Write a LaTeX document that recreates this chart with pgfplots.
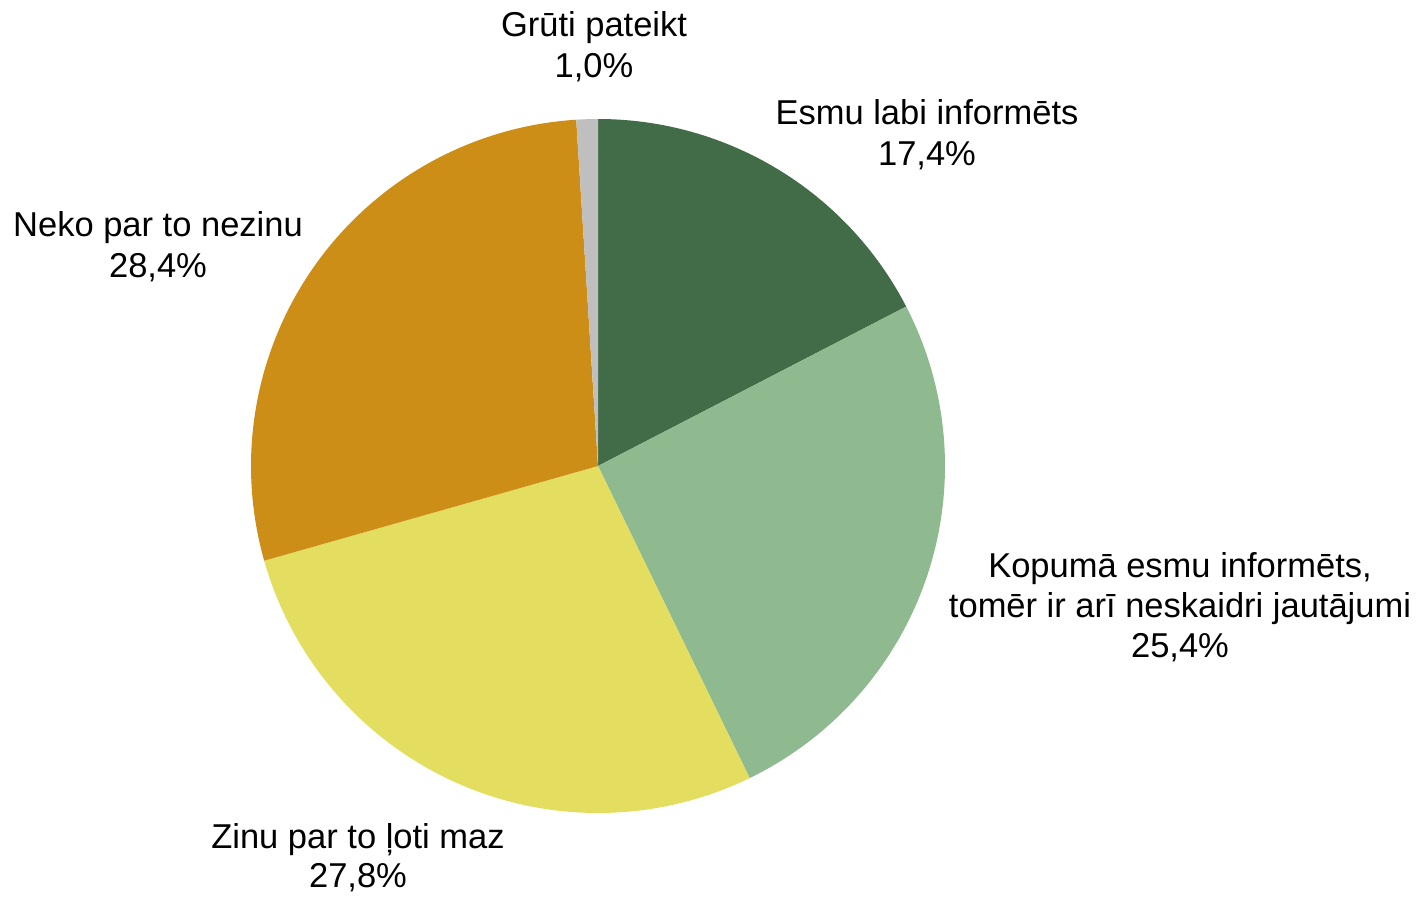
\documentclass[border=0pt]{standalone}
\usepackage{pgfplots}
\pgfplotsset{compat=1.18}
\usepackage{fontspec}
\setmainfont{Liberation Sans}
\definecolor{cA}{HTML}{426B47}
\definecolor{cB}{HTML}{8FBA8F}
\definecolor{cC}{HTML}{E3DE5F}
\definecolor{cD}{HTML}{CD8E17}
\definecolor{cE}{HTML}{BFBFBF}
% values (percent), clockwise from 12 o'clock
\def\vA{17.4}\def\vB{25.4}\def\vC{27.8}\def\vD{28.4}\def\vE{1.0}
\pgfmathsetmacro\aA{90}
\pgfmathsetmacro\aB{\aA-3.6*\vA}
\pgfmathsetmacro\aC{\aB-3.6*\vB}
\pgfmathsetmacro\aD{\aC-3.6*\vC}
\pgfmathsetmacro\aE{\aD-3.6*\vD}
\pgfmathsetmacro\aF{\aE-3.6*\vE}
\def\R{173.5pt}
\begin{document}
\begin{tikzpicture}[every node/.style={font=\fontsize{17.25pt}{20.25pt}\selectfont, inner sep=0pt}]
\begin{axis}[x=0.5pt, y=0.5pt, xmin=0, xmax=1417, ymin=0, ymax=896,
  hide axis, scale only axis, clip=false]
\fill[cA] (axis cs:598,430) -- ++(\aA:\R) arc[start angle=\aA, end angle=\aB, radius=\R] -- cycle;
\fill[cB] (axis cs:598,430) -- ++(\aB:\R) arc[start angle=\aB, end angle=\aC, radius=\R] -- cycle;
\fill[cC] (axis cs:598,430) -- ++(\aC:\R) arc[start angle=\aC, end angle=\aD, radius=\R] -- cycle;
\fill[cD] (axis cs:598,430) -- ++(\aD:\R) arc[start angle=\aD, end angle=\aE, radius=\R] -- cycle;
\fill[cE] (axis cs:598,430) -- ++(\aE:\R) arc[start angle=\aE, end angle=\aF, radius=\R] -- cycle;
% labels (baselines)
\node[anchor=base] at (axis cs:594,859) {Grūti pateikt};
\node[anchor=base] at (axis cs:594,818) {1,0\%};
\node[anchor=base] at (axis cs:927,771) {Esmu labi informēts};
\node[anchor=base] at (axis cs:927,730) {17,4\%};
\node[anchor=base] at (axis cs:158,660) {Neko par to nezinu};
\node[anchor=base] at (axis cs:158,619) {28,4\%};
\node[anchor=base] at (axis cs:1180,319) {Kopumā esmu informēts,};
\node[anchor=base] at (axis cs:1180,279) {tomēr ir arī neskaidri jautājumi};
\node[anchor=base] at (axis cs:1180,239) {25,4\%};
\node[anchor=base] at (axis cs:358,48) {Zinu par to ļoti maz};
\node[anchor=base] at (axis cs:358,9) {27,8\%};
\end{axis}
\pgfresetboundingbox
\path (current axis.south west) rectangle (current axis.north east);
\end{tikzpicture}
\end{document}
